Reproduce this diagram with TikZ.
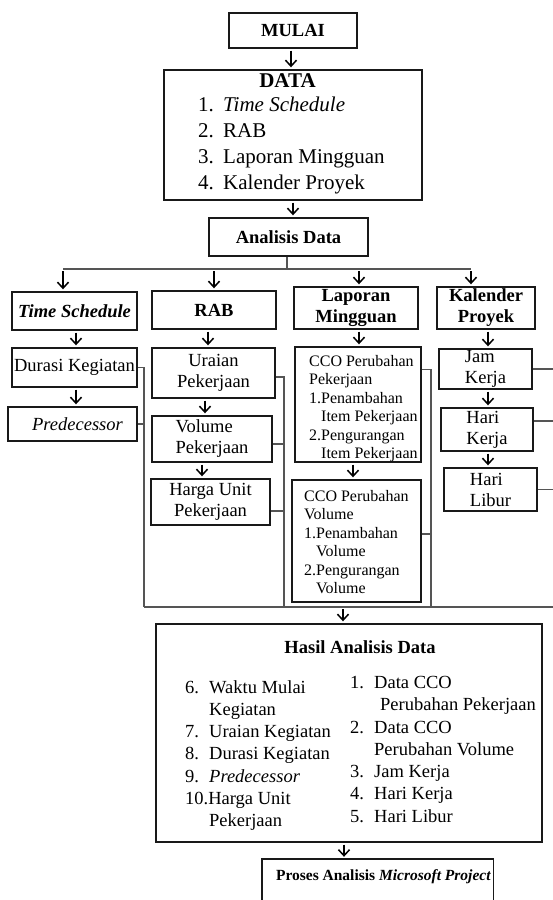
\documentclass[tikz,border=0pt]{standalone}
\usepackage{fontspec}
\setmainfont{Liberation Serif}
\usetikzlibrary{arrows.meta,calc,positioning}
\definecolor{LineClr}{RGB}{85,85,85}
\definecolor{BoxClr}{RGB}{25,25,25}

\begin{document}
\begin{tikzpicture}[x=1pt,y=-1pt,
  box/.style={draw=BoxClr,line width=1.4pt,inner sep=0pt,font=\fontsize{18.5}{21}\selectfont},
  lst/.style={anchor=north west,inner sep=0pt,align=left},
  link/.style={draw=LineClr,line width=1.3pt},
  arr/.style={line width=1.5pt,-{Straight Barb[length=6pt,width=11pt]},shorten <=2pt,shorten >=2pt}]
\useasboundingbox (0,0) rectangle (553,900);

% Top part.
\node[box,minimum width=128pt,minimum height=35pt] (mulai) at (293,30.5) {\textbf{MULAI}};
\node[box,minimum width=258pt,minimum height=130pt] (data) at (293,135) {};
\node[font=\fontsize{21}{26}\selectfont\bfseries,inner sep=0pt] (datattl) at (287.5,81) {DATA};
\node[lst,font=\fontsize{21}{26}\selectfont] (datalst) at (198,97)
  {\makebox[25pt][l]{1.}\textit{Time Schedule}\\ \makebox[25pt][l]{2.}RAB\\
   \makebox[25pt][l]{3.}Laporan Mingguan\\ \makebox[25pt][l]{4.}Kalender Proyek};
\node[box,minimum width=159pt,minimum height=38pt] (analisis) at (288.5,237) {\textbf{Analisis Data}};

% Columns.
\node[box,minimum width=125pt,minimum height=38pt] (ts) at (74.5,311) {\textbf{\textit{Time Schedule}}};
\node[box,minimum width=124pt,minimum height=38pt] (rab) at (214,310) {\textbf{RAB}};
\node[box,minimum width=124pt,minimum height=42pt,align=center] (lap) at (356,308) {\textbf{Laporan}\\\textbf{Mingguan}};
\node[box,minimum width=98pt,minimum height=42pt,align=center] (kal) at (486,308) {\textbf{Kalender}\\\textbf{Proyek}};

\node[box,minimum width=125pt,minimum height=39pt] (durasi) at (74.5,367.5) {Durasi Kegiatan};
\node[box,minimum width=129pt,minimum height=34pt] (pred) at (72.5,424) {\hspace*{10pt}\textit{Predecessor}};

\node[box,minimum width=123pt,minimum height=50pt,align=center] (uraian) at (213.5,373) {Uraian\\Pekerjaan};
\node[box,minimum width=120pt,minimum height=46pt,align=left] (volume) at (212,439) {Volume\\Pekerjaan};
\node[box,minimum width=119pt,minimum height=46pt,align=center] (harga) at (210.5,502) {Harga Unit\\Pekerjaan};

\node[box,minimum width=126pt,minimum height=115pt] (cco1) at (358,404.5) {};
\node[lst,font=\fontsize{16}{18.5}\selectfont] (cco1lst) at (309,355)
  {CCO Perubahan\\Pekerjaan\\1.Penambahan\\\hspace*{12pt}Item Pekerjaan\\2.Pengurangan\\\hspace*{12pt}Item Pekerjaan};
\node[box,minimum width=129pt,minimum height=122pt] (cco2) at (356.5,541) {};
\node[lst,font=\fontsize{16}{18.5}\selectfont] (cco2lst) at (304,490)
  {CCO Perubahan\\Volume\\1.Penambahan\\\hspace*{12pt}Volume\\2.Pengurangan\\\hspace*{12pt}Volume};

\node[box,minimum width=93pt,minimum height=40pt,align=left] (jam) at (485.5,369) {Jam\\Kerja};
\node[box,minimum width=92pt,minimum height=43pt,align=left] (hk) at (487,429.5) {Hari\\Kerja};
\node[box,minimum width=93pt,minimum height=43pt,align=left] (hl) at (490.5,489.5) {Hari\\Libur};

% Result.
\node[box,minimum width=386pt,minimum height=218pt] (hasil) at (349,733) {};
\node[font=\fontsize{18.5}{21}\selectfont\bfseries,inner sep=0pt] (hasilttl) at (360,647) {Hasil Analisis Data};
\node[lst,font=\fontsize{18.5}{22.3}\selectfont] (hasilkiri) at (185,680)
  {\makebox[24pt][l]{6.}Waktu Mulai\\\hspace*{24pt}Kegiatan\\\makebox[24pt][l]{7.}Uraian Kegiatan\\
   \makebox[24pt][l]{8.}Durasi Kegiatan\\\makebox[24pt][l]{9.}\textit{Predecessor}\\
   10.Harga Unit\\\hspace*{24pt}Pekerjaan};
\node[lst,font=\fontsize{18.5}{22.3}\selectfont] (hasilkanan) at (350,676)
  {\makebox[24pt][l]{1.}Data CCO\\\hspace*{30pt}Perubahan Pekerjaan\\\makebox[24pt][l]{2.}Data CCO\\
   \hspace*{24pt}Perubahan Volume\\\makebox[24pt][l]{3.}Jam Kerja\\\makebox[24pt][l]{4.}Hari Kerja\\
   \makebox[24pt][l]{5.}Hari Libur};

\node[minimum width=231pt,minimum height=41pt,inner sep=0pt] (proses) at (377.5,879.5) {};
\node[font=\fontsize{15.5}{18}\selectfont\bfseries,inner sep=0pt] (prosesttl) at (383.5,877) {Proses Analisis \textit{Microsoft Project}};
\draw[draw=BoxClr,line width=1.4pt] (proses.south west) -- (proses.north west) -- (proses.north east) -- (proses.south east);

% Arrows.
\draw[arr] ([xshift=-2pt]mulai.south) -- ([xshift=-2pt]mulai.south |- data.north);
\draw[arr] (data.south) -- (data.south |- analisis.north);

\coordinate (busL) at (63,269);
\coordinate (busR) at (471,269);
\draw[link] (busL) -- (busR);
\draw[link] ([xshift=-1.5pt]analisis.south) -- ([xshift=-1.5pt]analisis.south |- busL);
\draw[arr] (busL) -- (busL |- ts.north);
\draw[arr] (rab.north |- busL) -- (rab.north);
\draw[arr] ([xshift=3pt]lap.north |- busL) -- ([xshift=3pt]lap.north);
\draw[arr] (busR) -- (busR |- kal.north);

\draw[arr] ([xshift=1.5pt]ts.south) -- ([xshift=1.5pt]ts.south |- durasi.north);
\draw[arr] ([xshift=1.5pt]durasi.south) -- ([xshift=1.5pt]durasi.south |- pred.north);
\draw[arr] ([xshift=-6pt]rab.south) -- ([xshift=-6pt]rab.south |- uraian.north);
\draw[arr] ([xshift=-8.5pt]uraian.south) -- ([xshift=-8.5pt]uraian.south |- volume.north);
\draw[arr] ([xshift=-10pt]volume.south) -- ([xshift=-10pt]volume.south |- harga.north);
\draw[arr] ([xshift=3pt]lap.south) -- ([xshift=3pt]lap.south |- cco1.north);
\draw[arr] ([xshift=-5pt]cco1.south) -- ([xshift=-5pt]cco1.south |- cco2.north);
\draw[arr] ([xshift=2pt]kal.south) -- ([xshift=2pt]kal.south |- jam.north);
\draw[arr] ([xshift=2.5pt]jam.south) -- ([xshift=2.5pt]jam.south |- hk.north);
\draw[arr] ([xshift=1pt]hk.south) -- ([xshift=1pt]hk.south |- hl.north);

% Collecting lines.
\coordinate (bl) at (144,607);
\coordinate (b2) at (284,607);
\coordinate (b3) at (431,607);
\coordinate (br) at (556,607);
\draw[link] (durasi.east) -| (bl);
\draw[link] (pred.east) -- (pred.east -| bl);
\draw[link] ([yshift=-4pt]uraian.east) -| (b2);
\draw[link] ([yshift=-5pt]volume.east) -- ([yshift=-5pt]volume.east -| b2);
\draw[link] ([yshift=-9pt]harga.east) -- ([yshift=-9pt]harga.east -| b2);
\draw[link] ([yshift=-23pt]cco1.north east) -| (b3);
\draw[link] ([yshift=7pt]cco2.east) -- ([yshift=7pt]cco2.east -| b3);
\draw[link] (jam.east) -- (jam.east -| br);
\draw[link] ([yshift=8.5pt]hk.east) -- ([yshift=8.5pt]hk.east -| br);
\draw[link] (hl.east) -- (hl.east -| br);
\draw[link] (bl) -- (br);

\draw[arr] ([xshift=-6pt]hasil.north |- bl) -- ([xshift=-6pt]hasil.north);
\draw[arr] ([xshift=-5pt]hasil.south) -- ([xshift=-5pt]hasil.south |- proses.north);

\end{tikzpicture}
\end{document}
